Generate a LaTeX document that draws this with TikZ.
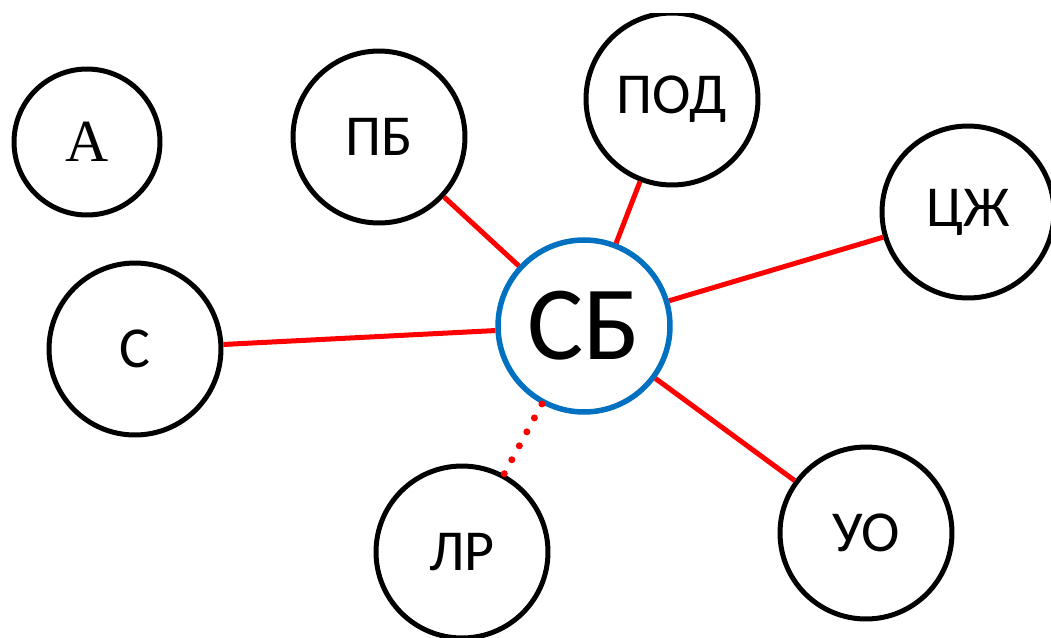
\documentclass[tikz,border=0pt]{standalone}
\usepackage{fontspec}
\usetikzlibrary{calc}
\setmainfont{Carlito}
\newfontfamily\serifA{Liberation Serif}
\begin{document}
\begin{tikzpicture}[x=0.02cm,y=-0.02cm,
  circ/.style={circle,draw=black,line width=0.1cm,minimum size=3.44cm,inner sep=0pt,font=\fontsize{33}{36}\selectfont},
  link/.style={draw=red,line width=0.1cm},
  reddot/.style={fill=red}]
\useasboundingbox (0,0) rectangle (1051,637);
\clip (0,13) rectangle (1051,637);
\node[circ,minimum size=2.92cm,font=\serifA\fontsize{34}{36}\selectfont] (A) at (87,142) {A};
\node[circ] (PB) at (379,137) {ПБ};
\node[circ] (POD) at (672,99) {ПОД};
\node[circ] (CZh) at (968,212) {ЦЖ};
\node[circ] (C) at (135,349) {С};
\node[circ,draw={rgb,255:red,0;green,112;blue,192},line width=0.11cm,font=\fontsize{60}{66}\selectfont] (SB) at (584,326) {СБ};
\node[circ] (LR) at (462,552) {ЛР};
\node[circ] (UO) at (866,533) {УО};
\draw[link] (PB) -- (SB);
\draw[link] (C) -- (SB);
\draw[link] (POD) -- (SB);
\draw[link] (CZh) -- (SB);
\draw[link] (UO) -- (SB);
\path (SB.center) -- (LR.center) coordinate[pos=0.345] (d0) coordinate[pos=0.6534] (d5);
\foreach \k in {0,...,5} \fill[reddot] ($(d0)!\k/5!(d5)$) circle (0.07cm);
\end{tikzpicture}
\end{document}
